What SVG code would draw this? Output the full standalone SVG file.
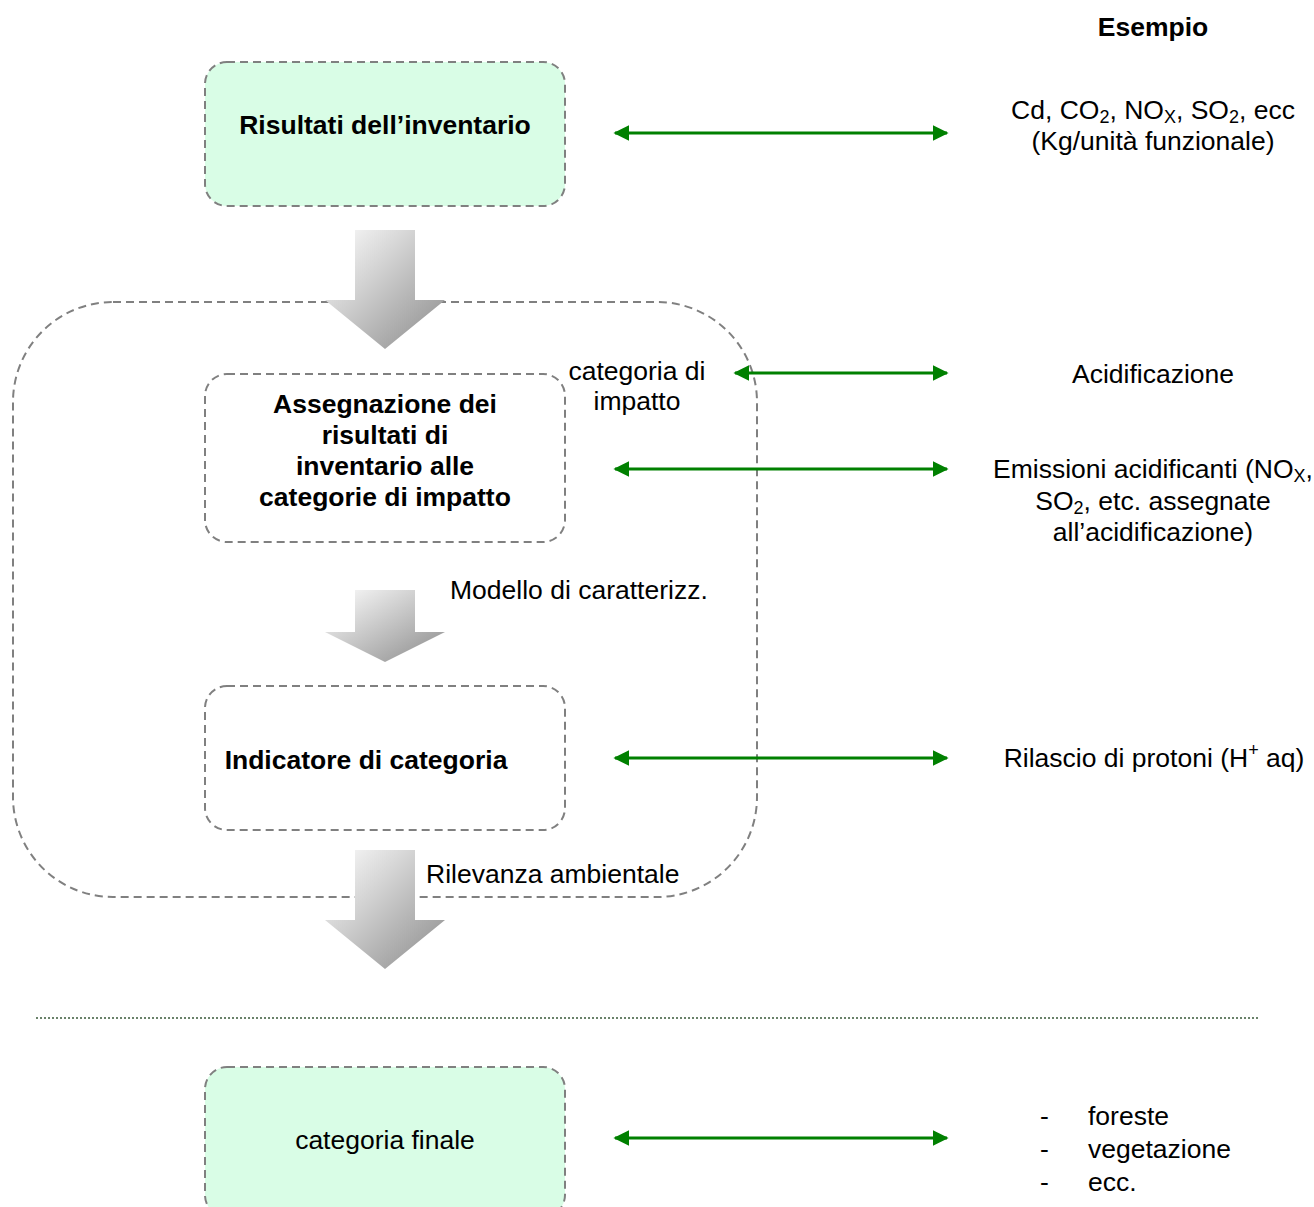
<svg xmlns="http://www.w3.org/2000/svg" width="1314" height="1207" viewBox="0 0 1314 1207">
<defs>
<style>
text{font-family:"Liberation Sans",Arial,sans-serif;font-size:26.5px;fill:#000}
.b{font-weight:bold}
.m{text-anchor:middle}
.s{font-size:18px}
.box{stroke:#808080;stroke-width:2;stroke-dasharray:8,5}
.g{fill:#d9fde6}
.n{fill:none}
.link{stroke:#008000;stroke-width:3;fill:none;marker-start:url(#ah);marker-end:url(#ah)}
.blk{fill:url(#gr)}
</style>
<marker id="ah" viewBox="0 0 10 10" refX="9" refY="5" markerWidth="16" markerHeight="16" markerUnits="userSpaceOnUse" orient="auto-start-reverse">
<path d="M0,0 L10,5 L0,10 z" fill="#008000"/>
</marker>
<linearGradient id="gr" x1="0" y1="0" x2="1" y2="1">
<stop offset="0" stop-color="#ffffff"/>
<stop offset="1" stop-color="#8a8a8a"/>
</linearGradient>
</defs>

<g id="container">
<rect class="box n" x="13" y="302" width="744" height="595" rx="100" ry="100"/>
</g>

<g id="node-risultati">
<rect class="box g" x="205" y="62" width="360" height="144" rx="22"/>
<text class="b m" x="385" y="134">Risultati dell’inventario</text>
</g>

<g id="node-assegnazione">
<rect class="box n" x="205" y="374" width="360" height="168" rx="22"/>
<text class="b m" x="385" y="413">Assegnazione dei</text>
<text class="b m" x="385" y="444">risultati di</text>
<text class="b m" x="385" y="475">inventario alle</text>
<text class="b m" x="385" y="506">categorie di impatto</text>
</g>

<g id="node-indicatore">
<rect class="box n" x="205" y="686" width="360" height="144" rx="22"/>
<text class="b m" x="366" y="769">Indicatore di categoria</text>
</g>

<g id="node-finale">
<rect class="box g" x="205" y="1067" width="360" height="150" rx="22"/>
<text class="m" x="385" y="1149">categoria finale</text>
</g>

<g id="flow-arrows">
<path class="blk" d="M355,230 H415 V300 H445 L385,349 L325,300 H355 Z"/>
<path class="blk" d="M355,590 H415 V632 H445 L385,662 L325,632 H355 Z"/>
<path class="blk" d="M355,850 H415 V920 H445 L385,969 L325,920 H355 Z"/>
</g>

<g id="connectors">
<line class="link" x1="615" y1="133" x2="947" y2="133"/>
<line class="link" x1="735" y1="373" x2="947" y2="373"/>
<line class="link" x1="615" y1="469" x2="947" y2="469"/>
<line class="link" x1="615" y1="758" x2="947" y2="758"/>
<line class="link" x1="615" y1="1138" x2="947" y2="1138"/>
</g>

<line x1="36" y1="1018" x2="1259" y2="1018" stroke="#3a5a3a" stroke-width="1.3" stroke-dasharray="2,2"/>

<g id="labels">
<text class="m" x="637" y="380">categoria di</text>
<text class="m" x="637" y="410">impatto</text>
<text x="450" y="599">Modello di caratterizz.</text>
<text x="426" y="883">Rilevanza ambientale</text>
</g>

<g id="examples">
<text class="b m" x="1153" y="36">Esempio</text>
<text class="m" x="1153" y="119">Cd, CO<tspan class="s" dy="4">2</tspan><tspan dy="-4">, NO</tspan><tspan class="s" dy="4">X</tspan><tspan dy="-4">, SO</tspan><tspan class="s" dy="4">2</tspan><tspan dy="-4">, ecc</tspan></text>
<text class="m" x="1153" y="150">(Kg/unità funzionale)</text>
<text class="m" x="1153" y="383">Acidificazione</text>
<text class="m" x="1153" y="478">Emissioni acidificanti (NO<tspan class="s" dy="4">X</tspan><tspan dy="-4">,</tspan></text>
<text class="m" x="1153" y="510">SO<tspan class="s" dy="4">2</tspan><tspan dy="-4">, etc. assegnate</tspan></text>
<text class="m" x="1153" y="541">all’acidificazione)</text>
<text class="m" x="1154" y="767">Rilascio di protoni (H<tspan class="s" dy="-11">+</tspan><tspan dy="11"> aq)</tspan></text>
<text x="1040" y="1125">-</text>
<text x="1088" y="1125">foreste</text>
<text x="1040" y="1158">-</text>
<text x="1088" y="1158">vegetazione</text>
<text x="1040" y="1191">-</text>
<text x="1088" y="1191">ecc.</text>
</g>
</svg>
